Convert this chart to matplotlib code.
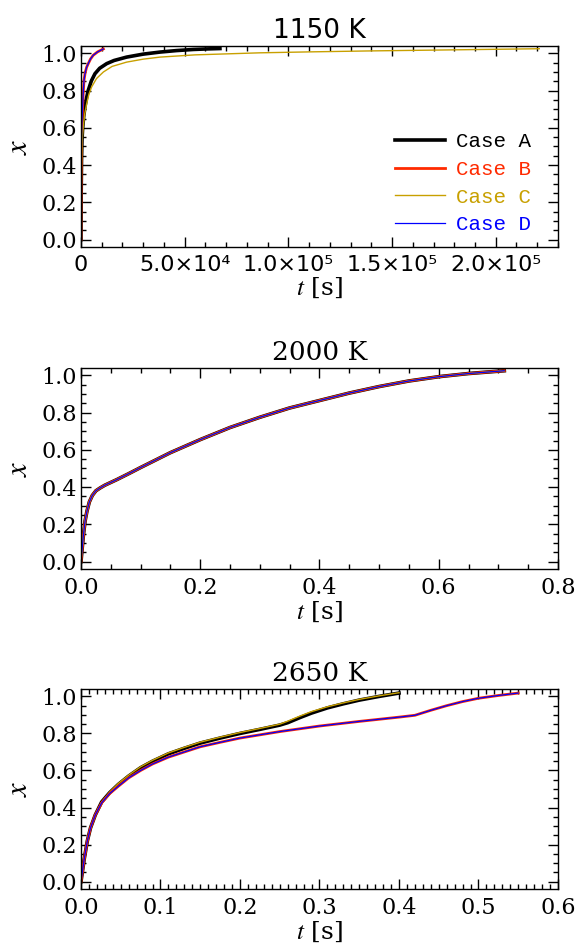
import matplotlib
matplotlib.use('Agg')
import matplotlib.pyplot as plt
from matplotlib.ticker import MultipleLocator, FormatStrFormatter

# ---- data ----
# 1150 K
t1_A = [0, 100, 250, 500, 820, 1300, 1930, 2700, 3520, 5000, 6750, 9000, 12400, 16000,
        22000, 30000, 38100, 46000, 54150, 61000, 67000]
x1_A = [0.0, 0.25, 0.42, 0.54, 0.600, 0.660, 0.713, 0.762, 0.802, 0.852, 0.891, 0.920,
        0.945, 0.962, 0.980, 0.996, 1.007, 1.015, 1.021, 1.024, 1.026]
t1_B = [0, 80, 200, 400, 600, 820, 1100, 1450, 2000, 2700, 3500, 4600, 5900, 8000, 10800]
x1_B = [0.0, 0.30, 0.50, 0.62, 0.67, 0.720, 0.790, 0.856, 0.895, 0.925, 0.945, 0.970,
        0.990, 1.008, 1.024]
t1_C = [0, 100, 250, 500, 1100, 1800, 2750, 3800, 5150, 7500, 10800, 15000, 22000, 30000,
        38100, 55000, 86300, 110000, 138000, 180000, 221000]
x1_C = [0.0, 0.22, 0.40, 0.52, 0.606, 0.675, 0.730, 0.780, 0.820, 0.865, 0.900, 0.930,
        0.953, 0.969, 0.980, 0.992, 1.003, 1.008, 1.013, 1.019, 1.025]
t1_D = t1_B
x1_D = x1_B

# 2000 K (all four cases nearly on top of each other)
t2 = [0, 0.002, 0.004, 0.007, 0.010, 0.014, 0.019, 0.025, 0.032, 0.040, 0.048, 0.060,
      0.080, 0.100, 0.150, 0.200, 0.250, 0.300, 0.350, 0.400, 0.450, 0.500, 0.550,
      0.600, 0.650, 0.710]
x2 = [0.0, 0.07, 0.14, 0.22, 0.27, 0.32, 0.355, 0.38, 0.395, 0.41, 0.422, 0.44,
      0.472, 0.505, 0.585, 0.655, 0.72, 0.775, 0.825, 0.865, 0.905, 0.940, 0.970,
      0.993, 1.010, 1.025]

# 2650 K
t3_A = [0, 0.002, 0.004, 0.008, 0.012, 0.018, 0.026, 0.036, 0.047, 0.060, 0.075, 0.090,
        0.110, 0.130, 0.150, 0.175, 0.200, 0.225, 0.250, 0.260, 0.275, 0.290, 0.310,
        0.330, 0.350, 0.375, 0.400]
x3_A = [0.0, 0.06, 0.12, 0.22, 0.29, 0.36, 0.43, 0.48, 0.525, 0.57, 0.615, 0.65,
        0.69, 0.72, 0.748, 0.775, 0.800, 0.822, 0.845, 0.858, 0.885, 0.910, 0.938,
        0.960, 0.980, 1.000, 1.018]
t3_B = [0, 0.002, 0.004, 0.008, 0.012, 0.018, 0.026, 0.036, 0.047, 0.060, 0.075, 0.090,
        0.110, 0.130, 0.150, 0.175, 0.200, 0.250, 0.300, 0.350, 0.400, 0.420, 0.440,
        0.460, 0.480, 0.500, 0.525, 0.550]
x3_B = [0.0, 0.06, 0.12, 0.22, 0.29, 0.36, 0.425, 0.475, 0.515, 0.56, 0.60, 0.635,
        0.672, 0.70, 0.728, 0.752, 0.775, 0.810, 0.840, 0.865, 0.888, 0.898, 0.925,
        0.950, 0.972, 0.990, 1.005, 1.018]
t3_C = t3_A
x3_C = [0.0, 0.06, 0.12, 0.22, 0.29, 0.36, 0.43, 0.483, 0.53, 0.575, 0.62, 0.655,
        0.695, 0.725, 0.753, 0.780, 0.805, 0.827, 0.850, 0.866, 0.893, 0.918, 0.944,
        0.965, 0.984, 1.003, 1.020]
t3_D = t3_B
x3_D = x3_B

cases = ['Case A', 'Case B', 'Case C', 'Case D']
colors = ['black', '#ff2a00', '#c8a000', '#0000ff']
widths = [2.6, 2.0, 1.0, 0.9]

xticks1 = [0, 5e4, 1e5, 1.5e5, 2e5]
xlabels1 = ['0', '5.0×10⁴', '1.0×10⁵', '1.5×10⁵', '2.0×10⁵']

plt.rcParams['font.family'] = 'DejaVu Serif'
plt.rcParams['mathtext.fontset'] = 'stix'

fig = plt.figure(figsize=(5.76, 9.51), dpi=100)
ax1 = fig.add_axes([0.1406, 0.7403, 0.8281, 0.2114])
ax2 = fig.add_axes([0.1406, 0.4017, 0.8281, 0.2114])
ax3 = fig.add_axes([0.1406, 0.0652, 0.8281, 0.2103])


def style(ax, title, xmaj, xmin, tfam='DejaVu Serif'):
    ax.set_ylim(-0.04, 1.04)
    ax.yaxis.set_major_locator(MultipleLocator(0.2))
    ax.yaxis.set_minor_locator(MultipleLocator(0.05))
    ax.xaxis.set_major_locator(MultipleLocator(xmaj))
    ax.xaxis.set_minor_locator(MultipleLocator(xmin))
    ax.tick_params(which='both', direction='in', top=True, right=True, width=1.0,
                   labelsize=16)
    ax.tick_params(axis='y', pad=3)
    ax.tick_params(axis='x', pad=6)
    ax.tick_params(which='major', length=7)
    ax.tick_params(which='minor', length=3.5)
    ax.yaxis.set_major_formatter(FormatStrFormatter('%.1f'))
    for s in ax.spines.values():
        s.set_linewidth(1.0)
    ax.set_title(title, fontsize=19, pad=6, family=tfam)
    ax.set_xlabel(r'$t$ [s]', fontsize=18, labelpad=0)
    ax.set_ylabel(r'$x$', fontsize=22, labelpad=5)


# panel 1
ax1.plot(t1_A, x1_A, color=colors[0], lw=widths[0], label=cases[0])
ax1.plot(t1_B, x1_B, color=colors[1], lw=widths[1], label=cases[1])
ax1.plot(t1_C, x1_C, color=colors[2], lw=widths[2], label=cases[2])
ax1.plot(t1_D, x1_D, color=colors[3], lw=widths[3], label=cases[3])
style(ax1, '1150 K', 5e4, 1e4, tfam='DejaVu Sans')
ax1.set_xlim(0, 2.3e5)
ax1.set_xticks(xticks1)
ax1.set_xticklabels(xlabels1, family='DejaVu Sans')
leg = ax1.legend(loc='lower right', bbox_to_anchor=(0.97, 0.0), frameon=False,
                 handlelength=2.4, handletextpad=0.55, labelspacing=0.42,
                 prop={'family': 'Liberation Mono', 'size': 15}, borderaxespad=0.2)
for txt, c in zip(leg.get_texts(), colors):
    txt.set_color(c)

# panel 2
ax2.plot(t2, x2, color=colors[0], lw=widths[0])
ax2.plot(t2, x2, color=colors[1], lw=widths[1])
ax2.plot(t2, x2, color=colors[2], lw=widths[2])
ax2.plot(t2, x2, color=colors[3], lw=widths[3])
style(ax2, '2000 K', 0.2, 0.05)
ax2.set_xlim(0, 0.8)
ax2.xaxis.set_major_formatter(FormatStrFormatter('%.1f'))

# panel 3
ax3.plot(t3_A, x3_A, color=colors[0], lw=widths[0])
ax3.plot(t3_C, x3_C, color=colors[2], lw=widths[2])
ax3.plot(t3_B, x3_B, color=colors[1], lw=widths[1])
ax3.plot(t3_D, x3_D, color=colors[3], lw=widths[3])
style(ax3, '2650 K', 0.1, 0.01)
ax3.set_xlim(0, 0.6)
ax3.xaxis.set_major_formatter(FormatStrFormatter('%.1f'))

fig.savefig('out.png', dpi=100)
